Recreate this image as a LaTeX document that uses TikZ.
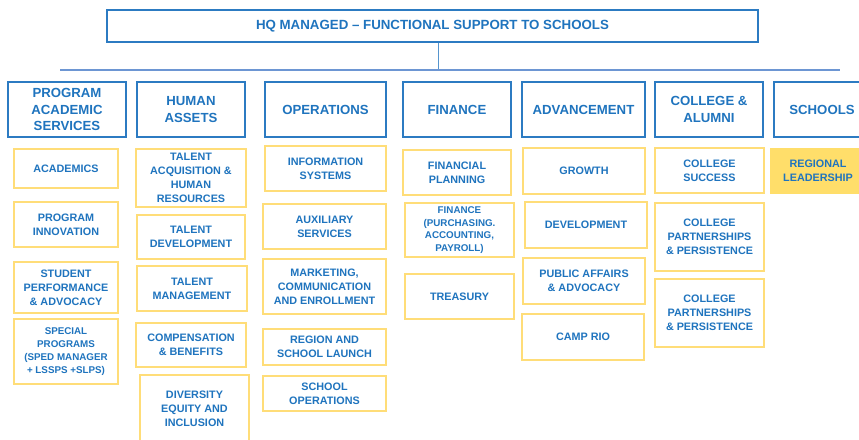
\documentclass[tikz,border=0pt]{standalone}
\usepackage{fontspec}
\setmainfont{Liberation Sans}
\definecolor{orgblue}{HTML}{2C7BC2}
\definecolor{orgtext}{HTML}{1F74BE}
\definecolor{barblue}{HTML}{6D96D3}
\definecolor{unitgold}{HTML}{FFDD78}
\definecolor{unitfill}{HTML}{FFDE6A}
\tikzset{
  x=1pt, y=-1pt,
  orgtxt/.style={text=orgtext, font=\bfseries, align=center, inner sep=0pt},
  titlebox/.style={orgtxt, draw=orgblue, line width=1.4pt,
    font=\fontsize{13.3}{16}\selectfont\bfseries},
  deptbox/.style={orgtxt, draw=orgblue, line width=1.4pt,
    font=\fontsize{13.2}{16.5}\selectfont\bfseries},
  unitbox/.style={orgtxt, draw=unitgold, line width=1.5pt,
    font=\fontsize{10.8}{14}\selectfont\bfseries},
  smallunit/.style={unitbox, font=\fontsize{9.8}{12.8}\selectfont\bfseries},
  filledunit/.style={unitbox, draw=none, fill=unitfill},
  bar/.style={draw=barblue, line width=2pt},
  drop/.style={draw=orgblue!80, line width=1pt},
  sz/.style 2 args={minimum width=#1pt, minimum height=#2pt},
}
\begin{document}
\begin{tikzpicture}
\useasboundingbox (0,0) rectangle (859,439);
\clip (0,0) rectangle (859,439);
\fill[white] (0,0) rectangle (859,439);

% top-level heading
\node[titlebox, sz={651}{32}] (hq) at (432.5,26) {HQ MANAGED -- FUNCTIONAL SUPPORT TO SCHOOLS};

% distribution bar
\coordinate (barL) at (60,70);
\coordinate (barR) at (840,70);
\coordinate (dropPt) at (438,70);
\draw[drop] (hq.south -| dropPt) -- (dropPt);
\draw[bar] (barL) -- (barR);

% department headers
\node[deptbox, sz={118}{55}] (pas) at (67,109.5) {PROGRAM\\ACADEMIC\\SERVICES};
\node[deptbox, sz={108}{55}] (ha)  at (191,109.5) {HUMAN\\ASSETS};
\node[deptbox, sz={121}{55}] (ops) at (325.5,109.5) {OPERATIONS};
\node[deptbox, sz={108}{55}] (fin) at (457,109.5) {FINANCE};
\node[deptbox, sz={123}{55}] (adv) at (583.5,109.5) {ADVANCEMENT};
\node[deptbox, sz={108}{55}] (col) at (709,109.5) {COLLEGE \&\\ALUMNI};
\node[deptbox, sz={96}{55}]  (sch) at (822,109.5) {SCHOOLS};

% program academic services
\node[unitbox, sz={104}{39}] (acad) at (66,168.5) {ACADEMICS};
\node[unitbox, sz={104}{45}] (pinn) at (66,224.5) {PROGRAM\\INNOVATION};
\node[unitbox, sz={104}{51}] (spa)  at (66,287.5) {STUDENT\\PERFORMANCE\\\& ADVOCACY};
\node[smallunit, sz={104}{65}] (spec) at (66,351.5) {SPECIAL\\PROGRAMS\\(SPED MANAGER\\+ LSSPS +SLPS)};

% human assets
\node[unitbox, sz={110}{58}] (taq)  at (191,178) {TALENT\\ACQUISITION \&\\HUMAN\\RESOURCES};
\node[unitbox, sz={108}{44}] (tdev) at (191,237) {TALENT\\DEVELOPMENT};
\node[unitbox, sz={110}{45}] (tman) at (192,288.5) {TALENT\\MANAGEMENT};
\node[unitbox, sz={110}{44}] (comp) at (191,345) {COMPENSATION\\\& BENEFITS};
\node[unitbox, sz={109}{68}] (dei)  at (194.5,409) {DIVERSITY\\EQUITY AND\\INCLUSION};

% operations
\node[unitbox, sz={121}{45}] (info) at (325.5,168.5) {INFORMATION\\SYSTEMS};
\node[unitbox, sz={123}{45}] (aux)  at (324.5,226.5) {AUXILIARY\\SERVICES};
\node[unitbox, sz={123}{55}] (mkt)  at (324.5,286.5) {MARKETING,\\COMMUNICATION\\AND ENROLLMENT};
\node[unitbox, sz={123}{36}] (rsl)  at (324.5,347) {REGION AND\\SCHOOL LAUNCH};
\node[unitbox, sz={123}{35}] (sops) at (324.5,393.5) {SCHOOL\\OPERATIONS};

% finance
\node[unitbox, sz={108}{45}] (fplan) at (457,172.5) {FINANCIAL\\PLANNING};
\node[smallunit, sz={109}{54}] (fpur) at (459.5,230) {FINANCE\\(PURCHASING.\\ACCOUNTING,\\PAYROLL)};
\node[unitbox, sz={109}{45}] (tre)   at (459.5,296.5) {TREASURY};

% advancement
\node[unitbox, sz={122}{46}] (grow) at (584,171) {GROWTH};
\node[unitbox, sz={122}{46}] (dev)  at (586,225) {DEVELOPMENT};
\node[unitbox, sz={122}{46}] (pub)  at (584,281) {PUBLIC AFFAIRS\\\& ADVOCACY};
\node[unitbox, sz={122}{46}] (camp) at (583,337) {CAMP RIO};

% college & alumni
\node[unitbox, sz={109}{45}] (cs)   at (709.5,170.5) {COLLEGE\\SUCCESS};
\node[unitbox, sz={109}{68}] (cpp1) at (709.5,237) {COLLEGE\\PARTNERSHIPS\\\& PERSISTENCE};
\node[unitbox, sz={109}{68}] (cpp2) at (709.5,313) {COLLEGE\\PARTNERSHIPS\\\& PERSISTENCE};

% schools
\node[filledunit, sz={96}{46}] (reg) at (818,171) {REGIONAL\\LEADERSHIP};
\end{tikzpicture}
\end{document}
